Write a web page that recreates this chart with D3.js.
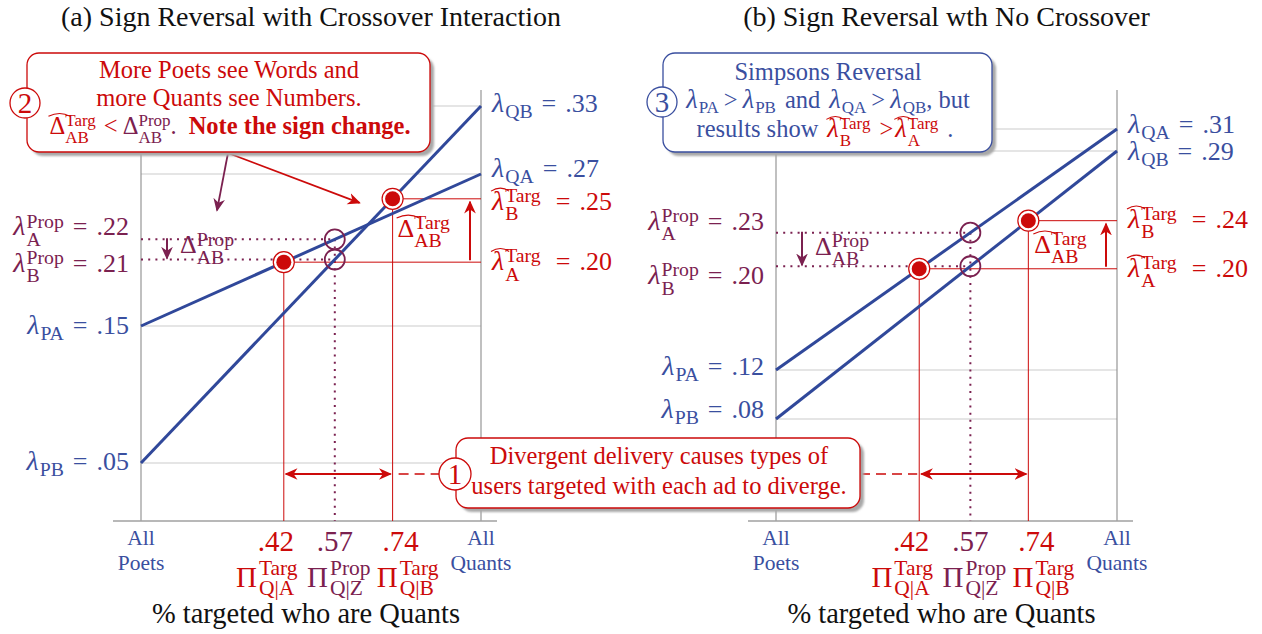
<!DOCTYPE html>
<html>
<head>
<meta charset="utf-8">
<script src="https://cdn.jsdelivr.net/npm/d3@7"></script>
<style>
  body { margin: 0; background: #fff; }
  svg { display: block; }
  text { font-family: "Liberation Serif", "DejaVu Serif", serif; }
</style>
</head>
<body>
<svg id="chart" width="1262" height="634"></svg>
<script>
// ---- data (one entry per panel) ----
const panelTitles = ["(a) Sign Reversal with Crossover Interaction", "(b) Sign Reversal wth No Crossover"];
const lambdaPA = [0.15, 0.12];
const lambdaPB = [0.05, 0.08];
const lambdaQA = [0.27, 0.31];
const lambdaQB = [0.33, 0.29];
const piTargA = [0.42, 0.42];
const piPropZ = [0.57, 0.57];
const piTargB = [0.74, 0.74];
const lambdaTargA = [0.20, 0.20];
const lambdaTargB = [0.25, 0.24];
const lambdaPropA = [0.22, 0.23];
const lambdaPropB = [0.21, 0.20];
const xEndLabels = [["All", "Poets"], ["All", "Quants"]];
const xTitle = "% targeted who are Quants";
const note1 = ["Divergent delivery causes types of", "users targeted with each ad to diverge."];
const note2 = ["More Poets see Words and", "more Quants see Numbers."];
const note3 = "Simpsons Reversal";

// ---- colours ----
const BLUE = "#3a4f9f", LINEBLUE = "#30489a", RED = "#cc0a0a", PURPLE = "#7b2150";
const GRID = "#dcdcdc", AXIS = "#8c8c8c";

// ---- layout ----
const panelX = [[141, 481], [776, 1117]];
const gridPix = [[463, 326, 174, 106], [419, 370, 151, 129]]; // pixel heights of sorted lambda endpoints
const axisY = 521, topY = 90;
const FS = 26, NOTE = 24.5;

const fmt = v => d3.format(".2f")(v).replace(/^0/, "");

const svg = d3.select("#chart");
const defs = svg.append("defs");
function marker(id, color) {
  defs.append("marker").attr("id", id)
    .attr("viewBox", "0 0 10 10").attr("refX", 9).attr("refY", 5)
    .attr("markerWidth", 13).attr("markerHeight", 13)
    .attr("markerUnits", "userSpaceOnUse").attr("orient", "auto-start-reverse")
    .append("path").attr("d", "M0,0.5 L10,5 L0,9.5 L3,5 z").attr("fill", color);
}
marker("arRed", RED);
marker("arPur", PURPLE);
defs.append("filter").attr("id", "shadow").attr("x", "-5%").attr("y", "-5%").attr("width", "110%").attr("height", "115%")
  .append("feGaussianBlur").attr("stdDeviation", 1.3);

// one <text> per formula; tspans placed by measuring, sub/superscripts stacked
function mtext(parent, x, y, parts, o) {
  const fs = o.fs || FS, anchor = o.anchor || "start";
  const sfs = o.sfs || fs * 0.76;
  const supY = o.supY != null ? o.supY : -0.3, subY = o.subY != null ? o.subY : 0.4, subOnlyY = o.subOnlyY != null ? o.subOnlyY : 0.22;
  const g = parent.append("g");
  const txt = g.append("text").attr("fill", o.fill);
  let cx = 0;
  const span = (s, px, py, size, col) => txt.append("tspan").attr("x", px).attr("y", py)
    .attr("font-size", size).attr("fill", col).text(s);
  parts.forEach(p => {
    if (typeof p === "string") p = {t: p};
    const col = p.fill || o.fill;
    if (p.gap) { cx += p.gap; return; }
    if (p.sup != null || p.sub != null) {
      const both = p.sup != null && p.sub != null;
      let w = 0;
      if (p.sup != null) w = Math.max(w, span(p.sup, cx, fs * supY, sfs, col).node().getComputedTextLength());
      if (p.sub != null) w = Math.max(w, span(p.sub, cx, fs * (both ? subY : subOnlyY), sfs, col).node().getComputedTextLength());
      cx += w;
      return;
    }
    const size = p.it ? fs * 1.08 : (p.fs || fs);
    const t = span(p.t, cx, 0, size, col)
      .attr("font-style", p.it ? "italic" : null)
      .attr("font-weight", p.bold ? "bold" : null);
    const w = t.node().getComputedTextLength();
    if (p.hat) {
      const hw = w + 5;
      g.append("path")
        .attr("d", `M${cx - 1},${-fs * 0.72} Q${cx + hw / 2},${-fs * 0.95} ${cx + hw},${-fs * 0.72}`)
        .attr("fill", "none").attr("stroke", col).attr("stroke-width", 1.1);
    }
    cx += w + (p.it ? 1 : 0);
  });
  const dx = anchor === "end" ? -cx : anchor === "middle" ? -cx / 2 : 0;
  g.attr("transform", `translate(${x + dx},${y})`);
  return g;
}

function callout(x0, y0, x1, y1, color, num, ccx, ccy, r) {
  const g = svg.append("g");
  g.append("rect").attr("x", x0 + 4).attr("y", y0 + 4).attr("width", x1 - x0).attr("height", y1 - y0)
    .attr("rx", 12).attr("fill", "#a8a8a8").attr("filter", "url(#shadow)");
  g.append("rect").attr("x", x0).attr("y", y0).attr("width", x1 - x0).attr("height", y1 - y0)
    .attr("rx", 12).attr("fill", "#fff").attr("stroke", color).attr("stroke-width", 1.3);
  g.append("circle").attr("cx", ccx).attr("cy", ccy).attr("r", r)
    .attr("fill", "#fff").attr("stroke", color).attr("stroke-width", 1.3);
  g.append("text").attr("x", ccx).attr("y", ccy + 10).attr("text-anchor", "middle")
    .attr("font-size", 29).attr("fill", color).text(num);
  return g;
}

const layers = {
  grid: svg.append("g"),
  marks: svg.append("g"),
  labels: svg.append("g")
};

// per-panel label offsets (baseline relative to the mark's y)
const leftLabOff = [{PA: 8, PB: 7, PropA: -4, PropB: 12}, {PA: 5, PB: -1, PropA: -3, PropB: 18}];
const rightLabOff = [{QA: 3, QB: 6, TargA: 8, TargB: 11}, {QA: 4, QB: 9, TargA: 8, TargB: 7}];
const deltaTargOff = [[5, 38], [6, 32]];
const deltaPropOff = [14, 22];

const P = [];
const eq = v => [{gap: 9}, "=", {gap: 9}, fmt(v)];

panelTitles.forEach((title, i) => {
  const x = d3.scaleLinear().domain([0, 1]).range(panelX[i]);
  const ends = [lambdaPB[i], lambdaPA[i], lambdaQA[i], lambdaQB[i]].sort(d3.ascending);
  const y = d3.scaleLinear().domain(ends).range(gridPix[i]);
  const onLine = (p, q, t) => y(p) + t * (y(q) - y(p));
  const x0 = x(0), x1 = x(1);

  // title
  layers.labels.append("text").attr("x", (x0 + x1) / 2).attr("y", 26).attr("text-anchor", "middle")
    .attr("font-size", 28).attr("fill", "#111").text(title);

  // grid lines at the four endpoint values
  layers.grid.selectAll(null).data(ends).join("line")
    .attr("x1", x0).attr("x2", x1).attr("y1", d => y(d)).attr("y2", d => y(d))
    .attr("stroke", GRID).attr("stroke-width", 1.5);
  // vertical axes and baseline
  layers.grid.selectAll(null).data([0, 1]).join("line")
    .attr("x1", d => x(d)).attr("x2", d => x(d)).attr("y1", topY).attr("y2", axisY)
    .attr("stroke", AXIS).attr("stroke-width", 1.1);
  layers.grid.append("line").attr("x1", x0 - 28).attr("x2", x1 + 16).attr("y1", axisY).attr("y2", axisY)
    .attr("stroke", "#a0a0a0").attr("stroke-width", 1.5);

  const tA = [x(piTargA[i]), onLine(lambdaPA[i], lambdaQA[i], piTargA[i])];
  const tB = [x(piTargB[i]), onLine(lambdaPB[i], lambdaQB[i], piTargB[i])];
  const pA = [x(piPropZ[i]), onLine(lambdaPA[i], lambdaQA[i], piPropZ[i])];
  const pB = [x(piPropZ[i]), onLine(lambdaPB[i], lambdaQB[i], piPropZ[i])];
  P.push({x, y, tA, tB, pA, pB});

  const m = layers.marks;
  // purple dotted guides
  [pA, pB].forEach(pt => {
    m.append("line").attr("x1", x0).attr("x2", pt[0]).attr("y1", pt[1]).attr("y2", pt[1])
      .attr("stroke", PURPLE).attr("stroke-width", 2).attr("stroke-dasharray", "2,5.2");
  });
  m.append("line").attr("x1", pA[0]).attr("x2", pA[0]).attr("y1", pA[1]).attr("y2", axisY)
    .attr("stroke", PURPLE).attr("stroke-width", 2).attr("stroke-dasharray", "2,5.2");
  // red thin guides
  [tA, tB].forEach(pt => {
    m.append("line").attr("x1", pt[0]).attr("x2", x1).attr("y1", pt[1]).attr("y2", pt[1])
      .attr("stroke", RED).attr("stroke-width", 1);
    m.append("line").attr("x1", pt[0]).attr("x2", pt[0]).attr("y1", pt[1]).attr("y2", axisY)
      .attr("stroke", RED).attr("stroke-width", 1);
  });

  // the two lines
  const lines = [[lambdaPA[i], lambdaQA[i]], [lambdaPB[i], lambdaQB[i]]];
  m.selectAll(null).data(lines).join("line")
    .attr("x1", x0).attr("x2", x1).attr("y1", d => y(d[0])).attr("y2", d => y(d[1]))
    .attr("stroke", LINEBLUE).attr("stroke-width", 3);

  // arrows
  m.append("line").attr("x1", x1 - 11).attr("x2", x1 - 11).attr("y1", tA[1] - 2).attr("y2", tB[1] + 3)
    .attr("stroke", RED).attr("stroke-width", 2).attr("marker-end", "url(#arRed)");
  m.append("line").attr("x1", x0 + 26).attr("x2", x0 + 26).attr("y1", pA[1] - 1).attr("y2", pB[1] - 1)
    .attr("stroke", PURPLE).attr("stroke-width", 2).attr("marker-end", "url(#arPur)");

  // points
  [pA, pB].forEach(pt => {
    m.append("circle").attr("cx", pt[0]).attr("cy", pt[1]).attr("r", 10)
      .attr("fill", "none").attr("stroke", PURPLE).attr("stroke-width", 1.8);
  });
  [tA, tB].forEach(pt => {
    m.append("circle").attr("cx", pt[0]).attr("cy", pt[1]).attr("r", 10.5)
      .attr("fill", "#fff").attr("stroke", RED).attr("stroke-width", 1.2);
    m.append("circle").attr("cx", pt[0]).attr("cy", pt[1]).attr("r", 7.5).attr("fill", RED);
  });

  // side labels
  const L = layers.labels, lo = leftLabOff[i], ro = rightLabOff[i];
  const lx = x0 - 12, rx = x1 + 11;
  mtext(L, lx, y(lambdaPA[i]) + lo.PA, [{t: "λ", it: true}, {sub: "PA"}, ...eq(lambdaPA[i])], {fill: BLUE, anchor: "end"});
  mtext(L, lx, y(lambdaPB[i]) + lo.PB, [{t: "λ", it: true}, {sub: "PB"}, ...eq(lambdaPB[i])], {fill: BLUE, anchor: "end"});
  mtext(L, lx, pA[1] + lo.PropA, [{t: "λ", it: true}, {sup: "Prop", sub: "A"}, ...eq(lambdaPropA[i])], {fill: PURPLE, anchor: "end"});
  mtext(L, lx, pB[1] + lo.PropB, [{t: "λ", it: true}, {sup: "Prop", sub: "B"}, ...eq(lambdaPropB[i])], {fill: PURPLE, anchor: "end"});
  mtext(L, rx, y(lambdaQA[i]) + ro.QA, [{t: "λ", it: true}, {sub: "QA"}, ...eq(lambdaQA[i])], {fill: BLUE});
  mtext(L, rx, y(lambdaQB[i]) + ro.QB, [{t: "λ", it: true}, {sub: "QB"}, ...eq(lambdaQB[i])], {fill: BLUE});
  mtext(L, rx, tB[1] + ro.TargB, [{t: "λ", it: true, hat: true}, {sup: "Targ", sub: "B"}, {gap: 6}, ...eq(lambdaTargB[i])], {fill: RED});
  mtext(L, rx, tA[1] + ro.TargA, [{t: "λ", it: true, hat: true}, {sup: "Targ", sub: "A"}, {gap: 6}, ...eq(lambdaTargA[i])], {fill: RED});

  // delta labels
  mtext(L, tB[0] + deltaTargOff[i][0], tB[1] + deltaTargOff[i][1], [{t: "Δ", hat: true}, {sup: "Targ", sub: "AB"}], {fill: RED});
  mtext(L, x0 + 39, pA[1] + deltaPropOff[i], [{t: "Δ"}, {sup: "Prop", sub: "AB"}], {fill: PURPLE});

  // bottom labels
  xEndLabels.forEach((lab, j) => {
    lab.forEach((s, k) => {
      L.append("text").attr("x", x(j)).attr("y", 545 + k * 25).attr("text-anchor", "middle")
        .attr("font-size", 21.5).attr("fill", BLUE).text(s);
    });
  });
  const pis = [
    {v: piTargA[i], c: RED, sup: "Targ", sub: "Q|A", nd: -8, pd: -17},
    {v: piPropZ[i], c: PURPLE, sup: "Prop", sub: "Q|Z", nd: 0, pd: 4},
    {v: piTargB[i], c: RED, sup: "Targ", sub: "Q|B", nd: 8, pd: 15}
  ];
  pis.forEach(d => {
    L.append("text").attr("x", x(d.v) + d.nd).attr("y", 551).attr("text-anchor", "middle")
      .attr("font-size", 29).attr("fill", d.c).text(fmt(d.v));
    mtext(L, x(d.v) + d.pd, 587, [{t: "Π"}, {gap: 2}, {sup: d.sup, sub: d.sub}], {fs: 29, sfs: 21.5, fill: d.c, anchor: "middle", supY: -0.41, subY: 0.27});
  });
  L.append("text").attr("x", (x0 + x1) / 2 - 5).attr("y", 623).attr("text-anchor", "middle")
    .attr("font-size", 28.5).attr("fill", "#111").text(xTitle);

  // double arrow showing divergence
  m.append("line").attr("x1", tA[0] + 2).attr("x2", tB[0] - 2).attr("y1", 474).attr("y2", 474)
    .attr("stroke", RED).attr("stroke-width", 2)
    .attr("marker-start", "url(#arRed)").attr("marker-end", "url(#arRed)");
});

// dashed connectors to note 1
const c1 = {x0: 456, x1: 860, y0: 438, y1: 508, cx: 455, cy: 474};
layers.marks.append("line").attr("x1", P[0].tB[0] + 6).attr("x2", c1.cx - 16).attr("y1", c1.cy).attr("y2", c1.cy)
  .attr("stroke", RED).attr("stroke-width", 1.5).attr("stroke-dasharray", "10,6");
layers.marks.append("line").attr("x1", c1.x1).attr("x2", P[1].tA[0] - 2).attr("y1", c1.cy).attr("y2", c1.cy)
  .attr("stroke", RED).attr("stroke-width", 1.5).attr("stroke-dasharray", "10,6");

// pointer arrows from note 2
const n2 = [228, 153];
svg.append("line").attr("x1", n2[0]).attr("y1", n2[1]).attr("x2", P[0].tB[0] - 33).attr("y2", P[0].tB[1] + 4)
  .attr("stroke", RED).attr("stroke-width", 1.8).attr("marker-end", "url(#arRed)");
svg.append("line").attr("x1", n2[0]).attr("y1", n2[1]).attr("x2", 217).attr("y2", P[0].pA[1] - 29)
  .attr("stroke", PURPLE).attr("stroke-width", 1.8).attr("marker-end", "url(#arPur)");

// note 2
callout(27, 53, 430, 152, RED, "2", 25, 103, 15);
note2.forEach((s, k) => {
  svg.append("text").attr("x", 229).attr("y", 78 + k * 28).attr("text-anchor", "middle")
    .attr("font-size", NOTE).attr("fill", RED).text(s);
});
mtext(svg, 230, 134, [
  {t: "Δ", hat: true}, {sup: "Targ", sub: "AB"}, {gap: 8}, "<", {gap: 5},
  {t: "Δ", fill: PURPLE}, {sup: "Prop", sub: "AB", fill: PURPLE}, {t: ".", fill: PURPLE}, {gap: 12},
  {t: "Note the sign change.", bold: true}
], {fs: NOTE, sfs: 17, fill: RED, anchor: "middle", supY: -0.32, subY: 0.36});

// note 3
callout(663, 53, 992, 152, BLUE, "3", 662, 102, 15);
svg.append("text").attr("x", 828).attr("y", 80).attr("text-anchor", "middle")
  .attr("font-size", NOTE).attr("fill", BLUE).text(note3);
mtext(svg, 828, 108, [
  {t: "λ", it: true}, {sub: "PA"}, {gap: 5}, ">", {gap: 5}, {t: "λ", it: true}, {sub: "PB"}, {gap: 9}, "and", {gap: 9},
  {t: "λ", it: true}, {sub: "QA"}, {gap: 5}, ">", {gap: 5}, {t: "λ", it: true}, {sub: "QB"}, ", but"
], {fs: NOTE, sfs: 17, fill: BLUE, anchor: "middle"});
mtext(svg, 825, 137, [
  "results show", {gap: 9},
  {t: "λ", it: true, hat: true, fill: RED}, {sup: "Targ", sub: "B", fill: RED}, {gap: 9}, {t: ">", fill: RED}, {gap: 2},
  {t: "λ", it: true, hat: true, fill: RED}, {sup: "Targ", sub: "A", fill: RED}, {gap: 9}, "."
], {fs: NOTE, sfs: 17, fill: BLUE, anchor: "middle", supY: -0.34, subY: 0.36});

// note 1
callout(c1.x0, c1.y0, c1.x1, c1.y1, RED, "1", c1.cx, c1.cy, 16);
note1.forEach((s, k) => {
  svg.append("text").attr("x", 659).attr("y", 464 + k * 30).attr("text-anchor", "middle")
    .attr("font-size", NOTE).attr("fill", RED).text(s);
});
</script>
</body>
</html>
